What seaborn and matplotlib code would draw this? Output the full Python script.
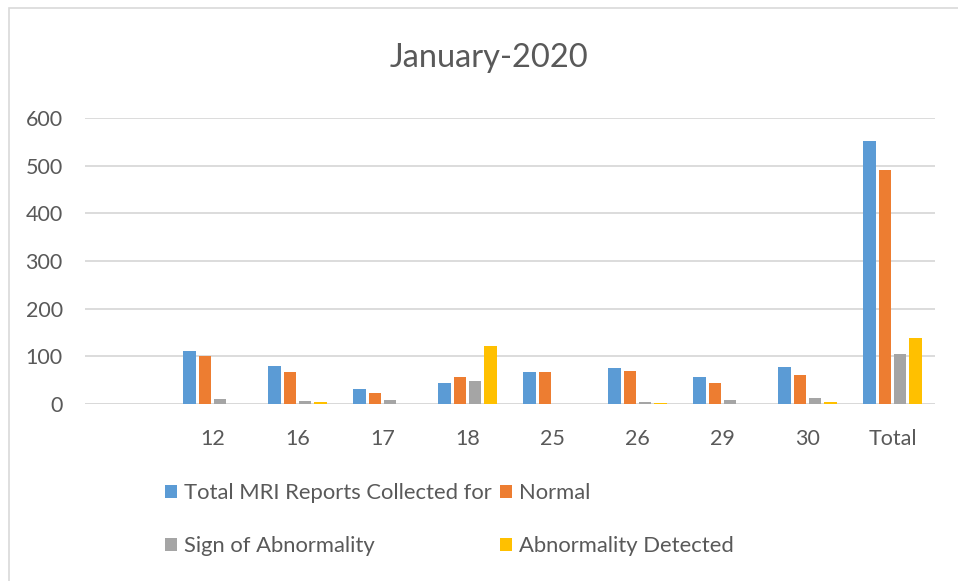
import matplotlib
matplotlib.use("Agg")
import matplotlib.pyplot as plt
import seaborn as sns
import pandas as pd
from matplotlib.patches import Rectangle

categories = ["12", "16", "17", "18", "25", "26", "29", "30", "Total"]
axis_order = [""] + categories
series_names = ["Total MRI Reports Collected for", "Normal",
                "Sign of Abnormality", "Abnormality Detected"]
total_reports = [112, 80, 32, 44, 68, 76, 57, 78, 551]
normal = [100, 68, 24, 57, 67, 70, 45, 60, 490]
sign_abnormality = [11, 7, 8, 49, 1, 4, 9, 13, 104]
abnormality_detected = [1, 5, 1, 121, 0, 2, 1, 5, 138]
colors = ["#5B9BD5", "#ED7D31", "#A5A5A5", "#FFC000"]
yticks = [0, 100, 200, 300, 400, 500, 600]

rows = []
for name, vals in zip(series_names, [total_reports, normal, sign_abnormality, abnormality_detected]):
    for c, v in zip(categories, vals):
        rows.append({"cat": c, "series": name, "value": v})
df = pd.DataFrame(rows)

sns.set_theme(style="white")
plt.rcParams["font.family"] = ["Lato", "DejaVu Sans"]
txt = "#595959"

W, H = 958, 581
fig = plt.figure(figsize=(W / 100, H / 100), dpi=100)
ax = fig.add_axes([85 / W, 1 - 404 / H, 850 / W, 286 / H])

sns.barplot(data=df, x="cat", y="value", hue="series", order=axis_order,
            hue_order=series_names, palette=colors, width=0.72, gap=0.18,
            saturation=1, ax=ax, legend=True, linewidth=0)

ax.set_ylim(0, 600)
ax.set_xlim(-0.5, len(axis_order) - 0.5)
ax.set_yticks(yticks)
ax.set_yticklabels([str(t) for t in yticks])
ax.set_xlabel("")
ax.set_ylabel("")
ax.grid(axis="y", color="#d9d9d9", linewidth=1.3)
ax.grid(axis="x", visible=False)
ax.set_axisbelow(True)
for s in ax.spines.values():
    s.set_visible(False)
ax.tick_params(axis="both", length=0, labelsize=15.5, colors=txt)
ax.tick_params(axis="x", pad=18)
ax.tick_params(axis="y", pad=16)
ax.axhline(0, color="#d9d9d9", linewidth=1.3, zorder=0.5)

fig.text(489 / W, 1 - 58 / H, "January-2020", ha="center", va="center",
         fontsize=23.5, color=txt)

handles, labels = ax.get_legend_handles_labels()
ax.get_legend().remove()
idx = [0, 2, 1, 3]
leg = fig.legend([handles[i] for i in idx], [labels[i] for i in idx], ncol=2,
                 loc="upper left",
                 bbox_to_anchor=(165 / W, 1 - 483 / H), frameon=False,
                 fontsize=15.8, labelcolor=txt, borderpad=0, borderaxespad=0,
                 handlelength=0.55, handleheight=0.55, handletextpad=0.3,
                 columnspacing=0.4, labelspacing=1.52)

fig.patches.append(Rectangle((9 / W, -0.1), 1.2, 1.1 - 8 / H,
                             transform=fig.transFigure, fill=False,
                             edgecolor="#d9d9d9", linewidth=1.2))

fig.savefig("out.png", dpi=100)
